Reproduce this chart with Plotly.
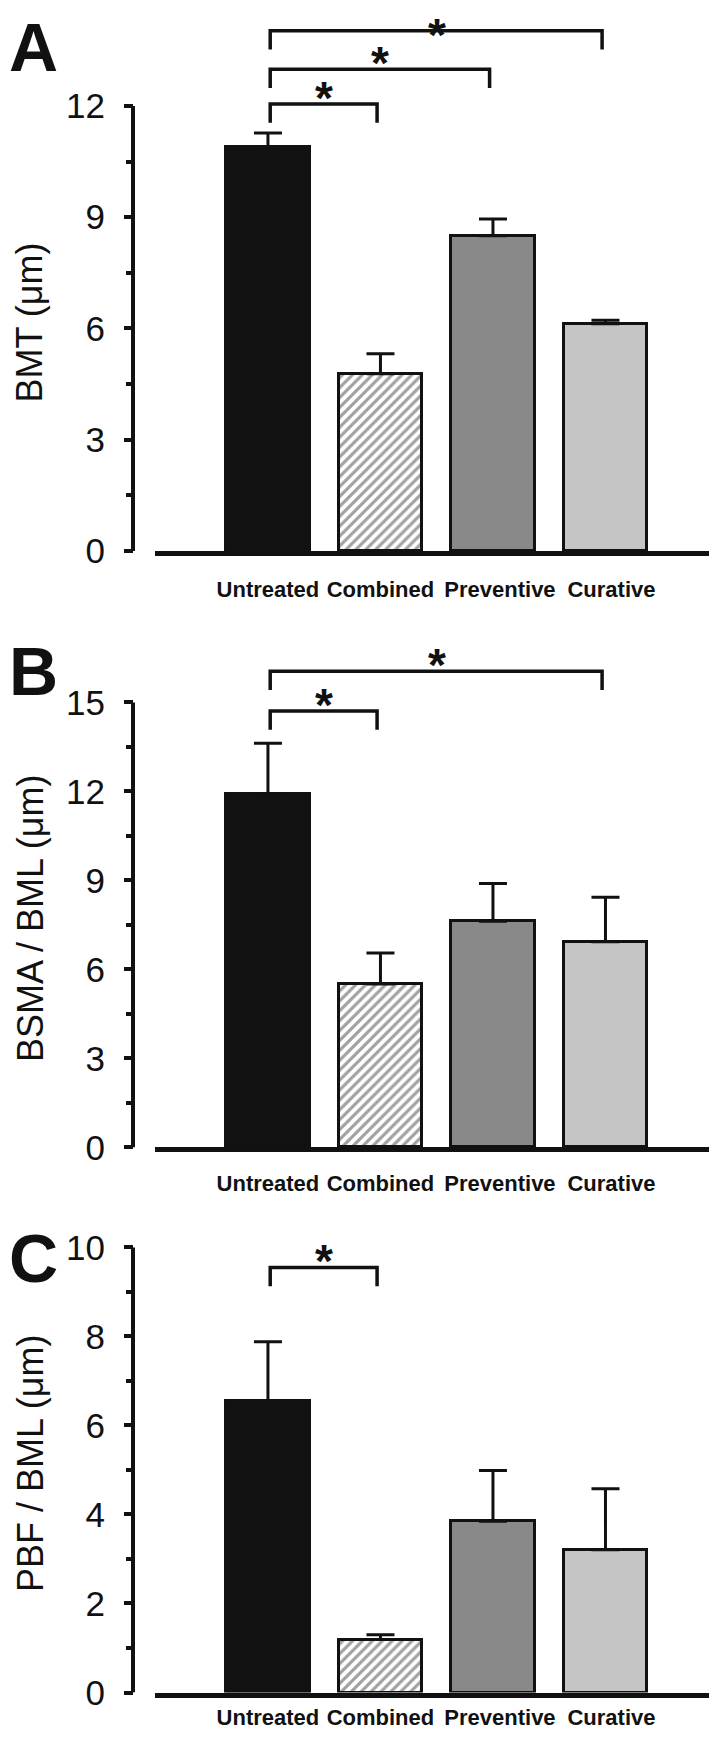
import plotly.graph_objects as go

# ---------------- data ----------------
categories = ["Untreated", "Combined", "Preventive", "Curative"]

bmt_mean = [10.9, 4.78, 8.5, 6.13]
bmt_err = [0.37, 0.54, 0.45, 0.09]

bsma_mean = [11.9, 5.51, 7.62, 6.93]
bsma_err = [1.72, 1.04, 1.28, 1.50]

pbf_mean = [6.54, 1.19, 3.85, 3.21]
pbf_err = [1.34, 0.11, 1.14, 1.37]

panel_letters = ["A", "B", "C"]
y_titles = ["BMT (μm)", "BSMA / BML (μm)", "PBF / BML (μm)"]
y_major_ticks = [[0, 3, 6, 9, 12], [0, 3, 6, 9, 12, 15], [0, 2, 4, 6, 8, 10]]
y_minor_ticks = [[1.5, 4.5, 7.5, 10.5], [1.5, 4.5, 7.5, 10.5, 13.5], [1, 3, 5, 7, 9]]

# significant comparisons (group index pairs)
sig_pairs_A = [(0, 1), (0, 2), (0, 3)]
sig_pairs_B = [(0, 1), (0, 3)]
sig_pairs_C = [(0, 1)]

# ---------------- style / layout ----------------
W, H = 717, 1750
FONT = "Liberation Sans, Arial, Helvetica, sans-serif"
INK = "#111111"
bar_colors = ["#121212", "white", "#898989", "#c5c5c5"]
bar_patterns = ["", "/", "", ""]
label_shift_px = [0, 0, 7, 6]

zero_px = [549, 1152, 1703]     # pixel row of y=0
top_px = [0, 640, 1200]         # top of each plot domain
axis_max = [12, 15, 10]
px_per_unit = [450 / 12, 450 / 15, 450 / 10]
bracket_levels = [[12.05, 12.99, 14.03], [14.71, 16.05], [9.55]]
label_standoff = [15, 12, 1]
leg_len_px = 19
yaxis_x_px = 125
xdom_px = [147, 712]
xdom = [xdom_px[0] / W, xdom_px[1] / W]
xrange_ = [-1.004, 4.018]
unit_px = (xdom_px[1] - xdom_px[0]) / (xrange_[1] - xrange_[0])
STAR_SIZE = 46
TICK_SIZE = 35
TITLE_SIZE = 36
LETTER_SIZE = 68

means = [bmt_mean, bsma_mean, pbf_mean]
errs = [bmt_err, bsma_err, pbf_err]
pairs = [sig_pairs_A, sig_pairs_B, sig_pairs_C]

xpos = list(range(len(categories)))
label_pos = [x + s / unit_px for x, s in zip(xpos, label_shift_px)]
n = len(categories)

fig = go.Figure()
shapes = []
annotations = []
layout_axes = {}

for p in range(3):
    sfx = "" if p == 0 else str(p + 1)
    xa, ya = "x" + sfx, "y" + sfx
    rng_top = (zero_px[p] - top_px[p]) / px_per_unit[p]
    fig.add_trace(go.Bar(
        x=xpos, y=means[p], xaxis=xa, yaxis=ya, width=0.74,
        marker=dict(color=bar_colors, line=dict(color=INK, width=3),
                    pattern=dict(shape=bar_patterns, fgcolor="black",
                                 bgcolor="white", size=7, solidity=0.45)),
        error_y=dict(type="data", symmetric=False, array=errs[p],
                     arrayminus=[0] * n, color=INK,
                     thickness=3, width=14),
        showlegend=False,
    ))
    dom = [1 - zero_px[p] / H, 1 - top_px[p] / H]
    layout_axes["xaxis" + sfx] = dict(
        domain=xdom, range=xrange_, anchor=ya, showgrid=False, zeroline=False,
        showline=True, linecolor=INK, linewidth=4.5, ticks="",
        tickvals=label_pos, ticktext=categories, ticklabelstandoff=label_standoff[p],
        tickfont=dict(family=FONT, size=22, color=INK, weight="bold"),
    )
    layout_axes["yaxis" + sfx] = dict(
        domain=dom, range=[0, rng_top], anchor="free", position=yaxis_x_px / W,
        showgrid=False, zeroline=False, showline=False,
        ticks="outside", ticklen=9, tickwidth=3.5, tickcolor=INK,
        tickvals=y_major_ticks[p], ticklabelstandoff=12,
        tickfont=dict(family=FONT, size=TICK_SIZE, color=INK),
        minor=dict(tickvals=y_minor_ticks[p], ticks="outside", ticklen=7,
                   tickwidth=3.5, tickcolor=INK),
    )
    shapes.append(dict(type="line", xref="paper", yref=ya,
                       x0=yaxis_x_px / W, x1=yaxis_x_px / W,
                       y0=0, y1=axis_max[p], line=dict(color=INK, width=4)))
    leg = leg_len_px / px_per_unit[p]
    for (i, j), lvl in zip(pairs[p], bracket_levels[p]):
        x0, x1 = xpos[i] + 0.02, xpos[j] - 0.03
        shapes.append(dict(type="path", xref=xa, yref=ya,
                           path=f"M {x0},{lvl - leg} L {x0},{lvl} L {x1},{lvl} L {x1},{lvl - leg}",
                           line=dict(color=INK, width=3.5)))
        lvl_px = zero_px[p] - lvl * px_per_unit[p]
        ysh = min(6, lvl_px - 0.56 * STAR_SIZE - 1)
        annotations.append(dict(xref=xa, yref=ya, x=(xpos[i] + xpos[j]) / 2, y=lvl,
                                text="*", showarrow=False, yanchor="middle", yshift=ysh,
                                font=dict(family=FONT, size=STAR_SIZE, color=INK, weight="bold")))
    letter_y = [None, 670, 1264][p]
    if letter_y is None:
        annotations.append(dict(xref="paper", yref="paper", x=0, xanchor="left",
                                y=1, yanchor="top", text=panel_letters[p], borderpad=0,
                                showarrow=False,
                                font=dict(family=FONT, size=LETTER_SIZE, color=INK, weight="bold")))
    else:
        annotations.append(dict(xref="paper", yref="paper", x=0, xanchor="left",
                                y=1 - letter_y / H, yanchor="middle", text=panel_letters[p],
                                showarrow=False, borderpad=0,
                                font=dict(family=FONT, size=LETTER_SIZE, color=INK, weight="bold")))
    cy = zero_px[p] - axis_max[p] * px_per_unit[p] / 2 - 6
    annotations.append(dict(xref="paper", yref="paper", x=22 / W, xanchor="center",
                            y=1 - cy / H, yanchor="middle", text=y_titles[p],
                            textangle=-90, showarrow=False,
                            font=dict(family=FONT, size=TITLE_SIZE, color=INK)))

fig.update_layout(
    width=W, height=H, margin=dict(l=0, r=0, t=0, b=0),
    paper_bgcolor="white", plot_bgcolor="white",
    bargap=0, shapes=shapes, annotations=annotations,
    **layout_axes,
)

fig.write_html("out.html")
